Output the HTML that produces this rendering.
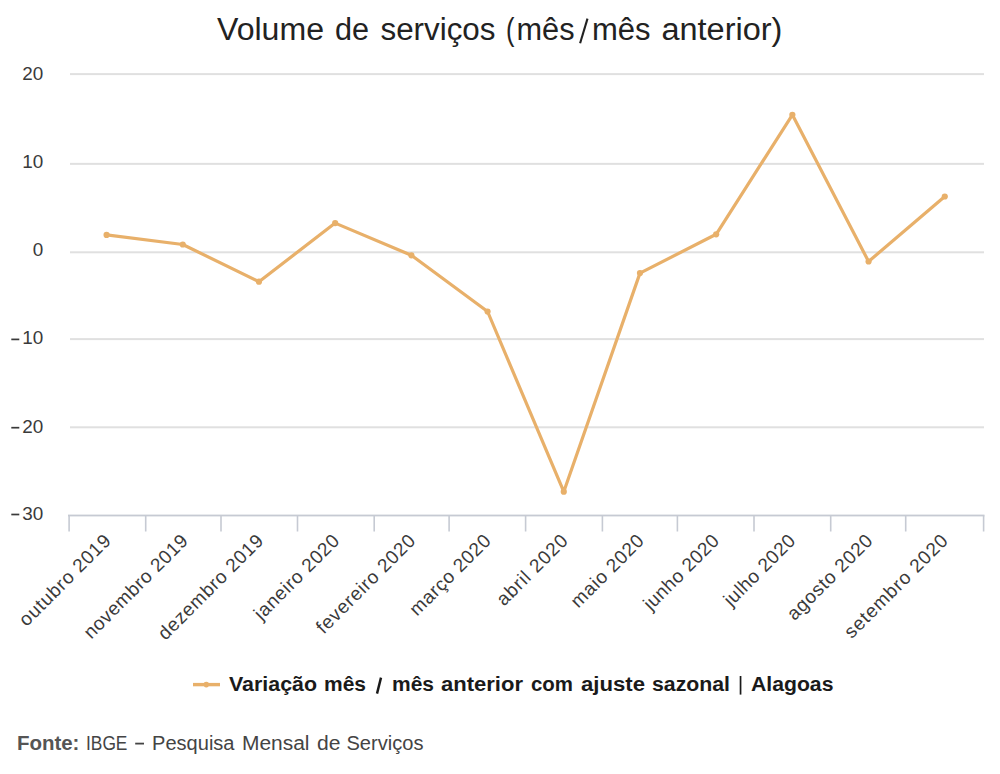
<!DOCTYPE html>
<html><head><meta charset="utf-8"><title>Volume de serviços</title>
<style>
html,body{margin:0;padding:0;background:#fff;width:1000px;height:774px;overflow:hidden}
svg{display:block;font-family:"Liberation Sans", sans-serif}
</style></head><body>
<svg width="1000" height="774" viewBox="0 0 1000 774">
<rect width="1000" height="774" fill="#ffffff"/>
<rect x="70" y="73.10" width="914" height="2" fill="#e0e0e0"/>
<rect x="70" y="162.85" width="914" height="2" fill="#e0e0e0"/>
<rect x="70" y="251.30" width="914" height="2" fill="#e0e0e0"/>
<rect x="70" y="338.10" width="914" height="2" fill="#e0e0e0"/>
<rect x="70" y="426.30" width="914" height="2" fill="#e0e0e0"/>
<rect x="68" y="514.60" width="916.5" height="1.8" fill="#c6cad3"/>
<rect x="68.30" y="515.5" width="1.6" height="16" fill="#c6cad3"/>
<rect x="144.90" y="515.5" width="1.6" height="16" fill="#c6cad3"/>
<rect x="220.20" y="515.5" width="1.6" height="16" fill="#c6cad3"/>
<rect x="296.70" y="515.5" width="1.6" height="16" fill="#c6cad3"/>
<rect x="373.40" y="515.5" width="1.6" height="16" fill="#c6cad3"/>
<rect x="448.30" y="515.5" width="1.6" height="16" fill="#c6cad3"/>
<rect x="524.80" y="515.5" width="1.6" height="16" fill="#c6cad3"/>
<rect x="601.60" y="515.5" width="1.6" height="16" fill="#c6cad3"/>
<rect x="676.60" y="515.5" width="1.6" height="16" fill="#c6cad3"/>
<rect x="753.20" y="515.5" width="1.6" height="16" fill="#c6cad3"/>
<rect x="829.90" y="515.5" width="1.6" height="16" fill="#c6cad3"/>
<rect x="904.90" y="515.5" width="1.6" height="16" fill="#c6cad3"/>
<rect x="982.80" y="515.5" width="1.6" height="16" fill="#c6cad3"/>
<text x="217.00" y="39.8" textLength="107.00" lengthAdjust="spacingAndGlyphs" font-size="31" font-weight="normal" fill="#222222">Volume</text>
<text x="334.96" y="39.8" textLength="34.04" lengthAdjust="spacingAndGlyphs" font-size="31" font-weight="normal" fill="#222222">de</text>
<text x="380.48" y="39.8" textLength="115.04" lengthAdjust="spacingAndGlyphs" font-size="31" font-weight="normal" fill="#222222">serviços</text>
<text x="506.08" y="39.8" textLength="8.44" lengthAdjust="spacingAndGlyphs" font-size="31" font-weight="normal" fill="#222222">(</text>
<text x="516.52" y="39.8" textLength="58.04" lengthAdjust="spacingAndGlyphs" font-size="31" font-weight="normal" fill="#222222">mês</text>
<text x="592.00" y="39.8" textLength="58.56" lengthAdjust="spacingAndGlyphs" font-size="31" font-weight="normal" fill="#222222">mês</text>
<text x="661.44" y="39.8" textLength="121.00" lengthAdjust="spacingAndGlyphs" font-size="31" font-weight="normal" fill="#222222">anterior)</text>
<text x="229.00" y="691.3" textLength="88.00" lengthAdjust="spacingAndGlyphs" font-size="20" font-weight="bold" fill="#1a1a1a">Variação</text>
<text x="324.00" y="691.3" textLength="42.00" lengthAdjust="spacingAndGlyphs" font-size="20" font-weight="bold" fill="#1a1a1a">mês</text>
<text x="392.00" y="691.3" textLength="42.00" lengthAdjust="spacingAndGlyphs" font-size="20" font-weight="bold" fill="#1a1a1a">mês</text>
<text x="441.00" y="691.3" textLength="82.00" lengthAdjust="spacingAndGlyphs" font-size="20" font-weight="bold" fill="#1a1a1a">anterior</text>
<text x="531.00" y="691.3" textLength="42.00" lengthAdjust="spacingAndGlyphs" font-size="20" font-weight="bold" fill="#1a1a1a">com</text>
<text x="581.00" y="691.3" textLength="64.00" lengthAdjust="spacingAndGlyphs" font-size="20" font-weight="bold" fill="#1a1a1a">ajuste</text>
<text x="652.00" y="691.3" textLength="78.00" lengthAdjust="spacingAndGlyphs" font-size="20" font-weight="bold" fill="#1a1a1a">sazonal</text>
<text x="751.00" y="691.3" textLength="82.44" lengthAdjust="spacingAndGlyphs" font-size="20" font-weight="bold" fill="#1a1a1a">Alagoas</text>
<text x="16.92" y="749.9" textLength="62.52" lengthAdjust="spacingAndGlyphs" font-size="19.5" font-weight="bold" fill="#555555">Fonte:</text>
<text x="86.00" y="749.9" textLength="41.44" lengthAdjust="spacingAndGlyphs" font-size="19.5" font-weight="normal" fill="#444444">IBGE</text>
<text x="152.08" y="749.9" textLength="82.44" lengthAdjust="spacingAndGlyphs" font-size="19.5" font-weight="normal" fill="#444444">Pesquisa</text>
<text x="242.00" y="749.9" textLength="67.52" lengthAdjust="spacingAndGlyphs" font-size="19.5" font-weight="normal" fill="#444444">Mensal</text>
<text x="317.00" y="749.9" textLength="23.48" lengthAdjust="spacingAndGlyphs" font-size="19.5" font-weight="normal" fill="#444444">de</text>
<text x="346.48" y="749.9" textLength="76.96" lengthAdjust="spacingAndGlyphs" font-size="19.5" font-weight="normal" fill="#444444">Serviços</text>
<text x="43.2" y="79.60" text-anchor="end" font-size="18" fill="#3a3a3a" transform="translate(43.2 0) scale(1.05 1) translate(-43.2 0)">20</text>
<text x="43.2" y="167.65" text-anchor="end" font-size="18" fill="#3a3a3a" transform="translate(43.2 0) scale(1.05 1) translate(-43.2 0)">10</text>
<text x="43.2" y="255.95" text-anchor="end" font-size="18" fill="#3a3a3a" transform="translate(43.2 0) scale(1.05 1) translate(-43.2 0)">0</text>
<text x="43.2" y="344.45" text-anchor="end" font-size="18" fill="#3a3a3a" transform="translate(43.2 0) scale(1.05 1) translate(-43.2 0)">10</text>
<rect x="11.3" y="338.55" width="8" height="1.7" fill="#3a3a3a"/>
<text x="43.2" y="432.75" text-anchor="end" font-size="18" fill="#3a3a3a" transform="translate(43.2 0) scale(1.05 1) translate(-43.2 0)">20</text>
<rect x="11.3" y="426.85" width="8" height="1.7" fill="#3a3a3a"/>
<text x="43.2" y="519.55" text-anchor="end" font-size="18" fill="#3a3a3a" transform="translate(43.2 0) scale(1.05 1) translate(-43.2 0)">30</text>
<rect x="11.3" y="513.65" width="8" height="1.7" fill="#3a3a3a"/>
<text x="111.87" y="542.00" text-anchor="end" textLength="120.57" lengthAdjust="spacing" transform="rotate(-45 111.87 542.00)" font-size="19" fill="#3a3a3a">outubro 2019</text>
<text x="189.07" y="542.00" text-anchor="end" textLength="138.39" lengthAdjust="spacing" transform="rotate(-45 189.07 542.00)" font-size="19" fill="#3a3a3a">novembro 2019</text>
<text x="264.47" y="542.00" text-anchor="end" textLength="139.94" lengthAdjust="spacing" transform="rotate(-45 264.47 542.00)" font-size="19" fill="#3a3a3a">dezembro 2019</text>
<text x="340.47" y="542.00" text-anchor="end" textLength="111.65" lengthAdjust="spacing" transform="rotate(-45 340.47 542.00)" font-size="19" fill="#3a3a3a">janeiro 2020</text>
<text x="416.47" y="542.00" text-anchor="end" textLength="131.17" lengthAdjust="spacing" transform="rotate(-45 416.47 542.00)" font-size="19" fill="#3a3a3a">fevereiro 2020</text>
<text x="491.87" y="542.00" text-anchor="end" textLength="105.86" lengthAdjust="spacing" transform="rotate(-45 491.87 542.00)" font-size="19" fill="#3a3a3a">março 2020</text>
<text x="568.87" y="542.00" text-anchor="end" textLength="91.57" lengthAdjust="spacing" transform="rotate(-45 568.87 542.00)" font-size="19" fill="#3a3a3a">abril 2020</text>
<text x="645.07" y="542.00" text-anchor="end" textLength="94.40" lengthAdjust="spacing" transform="rotate(-45 645.07 542.00)" font-size="19" fill="#3a3a3a">maio 2020</text>
<text x="720.27" y="542.00" text-anchor="end" textLength="97.93" lengthAdjust="spacing" transform="rotate(-45 720.27 542.00)" font-size="19" fill="#3a3a3a">junho 2020</text>
<text x="796.47" y="542.00" text-anchor="end" textLength="92.28" lengthAdjust="spacing" transform="rotate(-45 796.47 542.00)" font-size="19" fill="#3a3a3a">julho 2020</text>
<text x="873.67" y="542.00" text-anchor="end" textLength="112.08" lengthAdjust="spacing" transform="rotate(-45 873.67 542.00)" font-size="19" fill="#3a3a3a">agosto 2020</text>
<text x="949.07" y="542.00" text-anchor="end" textLength="137.54" lengthAdjust="spacing" transform="rotate(-45 949.07 542.00)" font-size="19" fill="#3a3a3a">setembro 2020</text>
<polyline points="106.57,234.90 182.77,244.50 258.97,281.70 335.17,223.10 411.37,255.30 487.57,311.50 563.77,491.70 639.97,273.10 716.17,234.30 792.37,114.80 868.57,261.50 944.77,196.50" fill="none" stroke="#e8b06a" stroke-width="3.2" stroke-linejoin="round" stroke-linecap="round"/>
<circle cx="106.57" cy="234.90" r="3.1" fill="#e8b06a"/>
<circle cx="182.77" cy="244.50" r="3.1" fill="#e8b06a"/>
<circle cx="258.97" cy="281.70" r="3.1" fill="#e8b06a"/>
<circle cx="335.17" cy="223.10" r="3.1" fill="#e8b06a"/>
<circle cx="411.37" cy="255.30" r="3.1" fill="#e8b06a"/>
<circle cx="487.57" cy="311.50" r="3.1" fill="#e8b06a"/>
<circle cx="563.77" cy="491.70" r="3.1" fill="#e8b06a"/>
<circle cx="639.97" cy="273.10" r="3.1" fill="#e8b06a"/>
<circle cx="716.17" cy="234.30" r="3.1" fill="#e8b06a"/>
<circle cx="792.37" cy="114.80" r="3.1" fill="#e8b06a"/>
<circle cx="868.57" cy="261.50" r="3.1" fill="#e8b06a"/>
<circle cx="944.77" cy="196.50" r="3.1" fill="#e8b06a"/>
<rect x="193" y="682.9" width="27" height="3.4" fill="#e8b06a"/>
<circle cx="206.3" cy="684.6" r="2.8" fill="#e8b06a"/>
<rect x="739.7" y="676" width="1.7" height="18.6" fill="#1a1a1a"/>
<rect x="135.2" y="742.7" width="8.8" height="1.8" fill="#444444"/>
<line x1="580.1" y1="43.2" x2="587.5" y2="18.6" stroke="#222222" stroke-width="2.1"/>
<line x1="377" y1="693.6" x2="381" y2="677.6" stroke="#1a1a1a" stroke-width="2.4"/>
</svg>
</body></html>
